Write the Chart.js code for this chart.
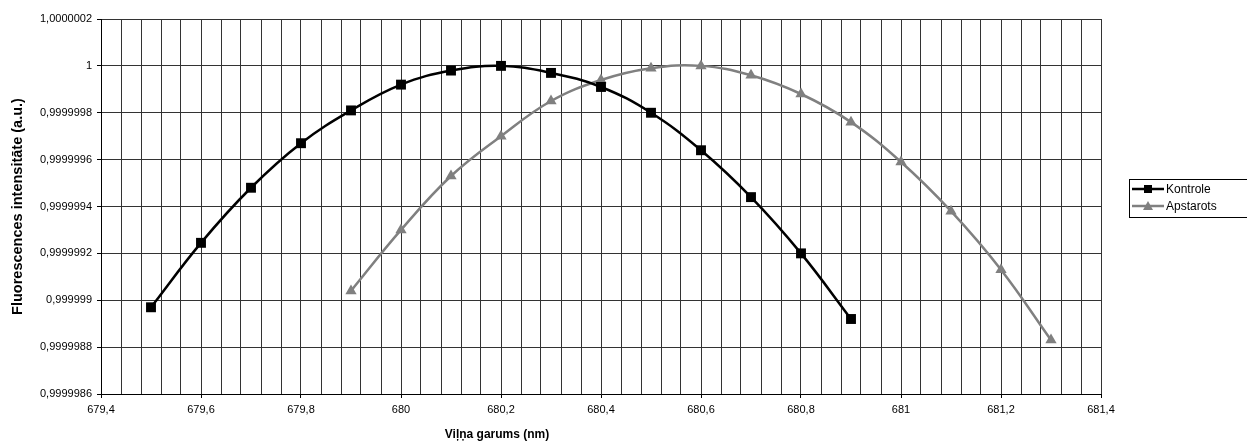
<!DOCTYPE html>
<html>
<head>
<meta charset="utf-8">
<script src="https://cdn.jsdelivr.net/npm/chart.js@4.4.1/dist/chart.umd.min.js"></script>
<style>
  html, body { margin: 0; padding: 0; background: #fff; }
  #wrap { width: 1247px; height: 447px; position: relative; }
</style>
</head>
<body>
<div id="wrap"><canvas id="chart" width="1247" height="447"></canvas></div>
<script>
// Dati
const kontroleX = [679.5, 679.6, 679.7, 679.8, 679.9, 680.0, 680.1, 680.2, 680.3, 680.4, 680.5, 680.6, 680.7, 680.8, 680.9];
const kontroleY = [0.99999897, 0.999999245, 0.99999948, 0.99999967, 0.99999981, 0.99999992, 0.99999998, 1.0,
                   0.99999997, 0.99999991, 0.9999998, 0.99999964, 0.99999944, 0.9999992, 0.99999892];
const apstarotsX = [679.9, 680.0, 680.1, 680.2, 680.3, 680.4, 680.5, 680.6, 680.7, 680.8, 680.9, 681.0, 681.1, 681.2, 681.3];
const apstarotsY = [0.99999904, 0.9999993, 0.99999953, 0.9999997, 0.99999985, 0.99999994, 0.99999999, 1.0,
                    0.99999996, 0.99999988, 0.99999976, 0.99999959, 0.99999938, 0.99999913, 0.99999883];
const yTicks = [0.9999986, 0.9999988, 0.999999, 0.9999992, 0.9999994, 0.9999996, 0.9999998, 1, 1.0000002];
const xLabelTicks = [679.4, 679.6, 679.8, 680, 680.2, 680.4, 680.6, 680.8, 681, 681.2, 681.4];
const xMin = 679.4, xMax = 681.4, xGridStep = 0.04;

const FONT = "'Liberation Sans', Arial, sans-serif";

const fmt = (v, d) => {
    let s = v.toFixed(d);
    if (s.indexOf('.') >= 0) s = s.replace(/0+$/, '').replace(/\.$/, '');
    return s.replace('.', ',');
};
const isLabelTick = v => xLabelTicks.some(t => Math.abs(t - v) < 1e-6);

// Leģenda un ass nosaukumi
const extrasPlugin = {
    id: 'extras',
    afterDraw(chart) {
        const ctx = chart.ctx;
        const area = chart.chartArea;
        ctx.save();
        ctx.fillStyle = '#000';
        ctx.textAlign = 'center';
        ctx.textBaseline = 'middle';
        ctx.font = 'bold 12px ' + FONT;
        ctx.fillText('Viļņa garums (nm)', 497, 435);
        ctx.font = 'bold 14.5px ' + FONT;
        ctx.translate(18, (area.top + area.bottom) / 2);
        ctx.rotate(-Math.PI / 2);
        ctx.fillText('Fluorescences intensitāte (a.u.)', 0, 0);
        ctx.restore();

        // leģenda
        ctx.save();
        ctx.strokeStyle = '#000';
        ctx.lineWidth = 1;
        ctx.strokeRect(1129.5, 179.5, 130, 38);
        const items = chart.data.datasets;
        items.forEach((ds, i) => {
            const y = 189 + i * 17;
            ctx.strokeStyle = ds.borderColor;
            ctx.lineWidth = 2.5;
            ctx.beginPath();
            ctx.moveTo(1132, y);
            ctx.lineTo(1164, y);
            ctx.stroke();
            ctx.fillStyle = ds.pointBackgroundColor;
            ctx.beginPath();
            if (ds.pointStyle === 'rect') {
                ctx.rect(1148 - 4, y - 4, 8, 8);
            } else {
                ctx.moveTo(1148, y - 5);
                ctx.lineTo(1153, y + 4);
                ctx.lineTo(1143, y + 4);
                ctx.closePath();
            }
            ctx.fill();
            ctx.fillStyle = '#000';
            ctx.font = '12px ' + FONT;
            ctx.textAlign = 'left';
            ctx.textBaseline = 'middle';
            ctx.fillText(ds.label, 1166, y + 1);
        });
        ctx.restore();
    }
};

const chart = new Chart(document.getElementById('chart'), {
    type: 'line',
    data: {
        datasets: [
            {
                label: 'Kontrole',
                data: kontroleX.map((x, i) => ({ x: x, y: kontroleY[i] })),
                borderColor: '#000000',
                backgroundColor: '#000000',
                pointBackgroundColor: '#000000',
                pointBorderColor: '#000000',
                borderWidth: 2.5,
                pointStyle: 'rect',
                pointRadius: 7,
                pointBorderWidth: 0,
                tension: 0.4,
                fill: false
            },
            {
                label: 'Apstarots',
                data: apstarotsX.map((x, i) => ({ x: x, y: apstarotsY[i] })),
                borderColor: '#808080',
                backgroundColor: '#808080',
                pointBackgroundColor: '#808080',
                pointBorderColor: '#808080',
                borderWidth: 2.5,
                pointStyle: 'triangle',
                pointRadius: 6.5,
                pointBorderWidth: 0,
                tension: 0.4,
                fill: false
            }
        ]
    },
    options: {
        responsive: false,
        animation: false,
        devicePixelRatio: 1,
        layout: { padding: { top: 19, right: 146, left: 0, bottom: 0 } },
        plugins: {
            legend: { display: false },
            tooltip: { enabled: false }
        },
        scales: {
            x: {
                type: 'linear',
                min: xMin,
                max: xMax,
                afterBuildTicks(scale) {
                    const ticks = [];
                    const n = Math.round((xMax - xMin) / xGridStep);
                    for (let i = 0; i <= n; i++) ticks.push({ value: +(xMin + i * xGridStep).toFixed(2) });
                    scale.ticks = ticks;
                },
                afterFit(scale) { scale.height = 53; },
                grid: {
                    color: '#333333',
                    lineWidth: 1,
                    drawTicks: true,
                    tickLength: 4,
                    tickColor: ctx => (ctx.tick && isLabelTick(ctx.tick.value)) ? '#000' : 'rgba(0,0,0,0)'
                },
                border: { color: '#000', width: 1 },
                ticks: {
                    autoSkip: false,
                    maxRotation: 0,
                    color: '#000',
                    font: { family: FONT, size: 11 },
                    padding: 5,
                    callback: v => isLabelTick(v) ? fmt(v, 1) : ''
                }
            },
            y: {
                type: 'linear',
                min: yTicks[0],
                max: yTicks[yTicks.length - 1],
                afterBuildTicks(scale) {
                    scale.ticks = yTicks.map(v => ({ value: v }));
                },
                afterFit(scale) { scale.width = 101; },
                grid: {
                    color: '#333333',
                    lineWidth: 1,
                    tickLength: 4,
                    tickColor: '#000'
                },
                border: { color: '#000', width: 1 },
                ticks: {
                    color: '#000',
                    font: { family: FONT, size: 11 },
                    padding: 5,
                    callback: v => fmt(v, 7)
                }
            }
        }
    },
    plugins: [extrasPlugin]
});
</script>
</body>
</html>
